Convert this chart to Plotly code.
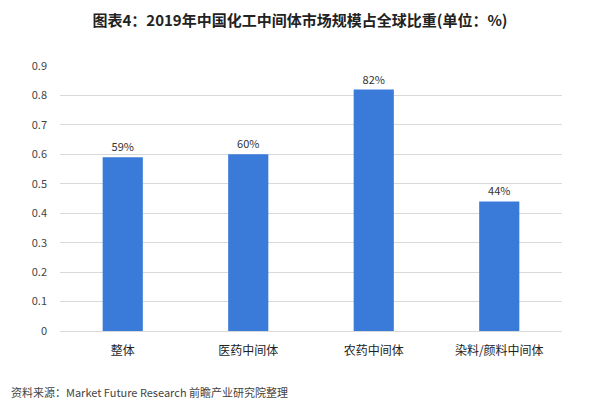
import plotly.graph_objects as go

categories = ["整体", "医药中间体", "农药中间体", "染料/颜料中间体"]
values = [0.59, 0.60, 0.82, 0.44]
labels = ["59%", "60%", "82%", "44%"]
tick_vals = [0, 0.1, 0.2, 0.3, 0.4, 0.5, 0.6, 0.7, 0.8, 0.9]
tick_text = ["0", "0.1", "0.2", "0.3", "0.4", "0.5", "0.6", "0.7", "0.8", "0.9"]

font_family = "Microsoft YaHei, Noto Sans CJK SC, sans-serif"

fig = go.Figure(go.Bar(
    x=categories, y=values, text=labels, textposition="outside",
    marker=dict(color="#3A7BDA", line=dict(width=0)),
    width=0.32,
    textfont=dict(size=11, color="#333333", family=font_family),
    cliponaxis=False,
))

fig.update_layout(
    width=600, height=399,
    margin=dict(l=60, r=38, t=66, b=68),
    paper_bgcolor="white", plot_bgcolor="white",
    showlegend=False,
    font=dict(family=font_family, color="#333333"),
    title=dict(text="<b>图表4：2019年中国化工中间体市场规模占全球比重(单位：%)</b>",
               x=0.5, xanchor="center", y=0.948, yanchor="middle",
               font=dict(size=15, color="#222222", family=font_family)),
    xaxis=dict(showline=True, linecolor="#d9d9d9", linewidth=1, ticks="",
               tickfont=dict(size=12, color="#222222"), showgrid=False,
               ticklabelstandoff=9),
    yaxis=dict(range=[0, 0.9], tickvals=tick_vals, ticktext=tick_text,
               showgrid=True, gridcolor="#d9d9d9", gridwidth=1, zeroline=False,
               showline=False, ticks="", tickfont=dict(size=11, color="#444444"),
               ticklabelstandoff=12),
    annotations=[dict(text="资料来源：Market Future Research 前瞻产业研究院整理",
                      xref="paper", yref="paper", x=-0.102, y=-0.23,
                      xanchor="left", yanchor="middle", showarrow=False,
                      font=dict(size=11, color="#444444", family=font_family))],
)

fig.write_html("out.html")
